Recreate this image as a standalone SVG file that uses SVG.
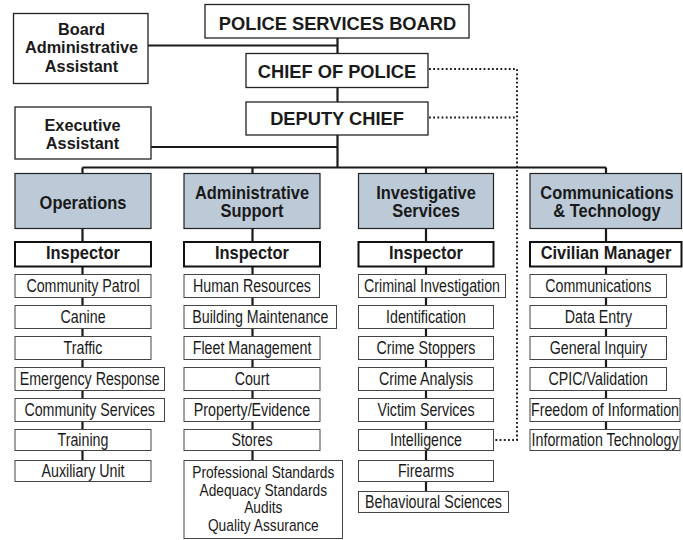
<svg xmlns="http://www.w3.org/2000/svg" width="683" height="540" viewBox="0 0 683 540">
<style>
.top{fill:#fff;stroke:#222;stroke-width:1.3}
.hd{fill:#bccad7;stroke:#222;stroke-width:1.2}
.ins{fill:#fff;stroke:#111;stroke-width:2}
.sub{fill:#fff;stroke:#444;stroke-width:1}
.con{fill:none;stroke:#1a1a1a;stroke-width:2.2}
.dot{fill:none;stroke:#1a1a1a;stroke-width:2;stroke-dasharray:1.8 2.4}
text{font-family:"Liberation Sans",Arial,Helvetica,sans-serif;text-anchor:middle;fill:#1a1a1a}
.tb{font-size:18.3px;font-weight:bold}
.tl{font-size:16.3px;font-weight:bold}
.hb{font-size:17.5px;font-weight:bold;transform:scaleX(0.94);transform-box:fill-box;transform-origin:50% 50%}
.r{font-size:18.5px;transform:scaleX(0.77);transform-box:fill-box;transform-origin:50% 50%}
.ps{font-size:16px;transform:scaleX(0.86);transform-box:fill-box;transform-origin:50% 50%}
</style>
<rect width="683" height="540" fill="#fff"/>
<g id="connectors">
<path class="con" d="M337.5 38V167.5M148 45.5H337.5M151 147H337.5M82.5 167.5H606M82.5 167.5V471M252.5 167.5V461M426 167.5V492M606 167.5V431"/>
<path class="dot" d="M429 69H517V440H494M429 117.5H517"/>
</g>
<g id="board"><rect class="top" x="205" y="4.5" width="264" height="33.5"/><text class="tb" x="337.5" y="29.5">POLICE SERVICES BOARD</text></g>
<g id="chief"><rect class="top" x="246" y="53.5" width="182" height="34"/><text class="tb" x="337" y="77.5">CHIEF OF POLICE</text></g>
<g id="deputy"><rect class="top" x="246" y="102" width="182" height="33"/><text class="tb" x="337" y="125">DEPUTY CHIEF</text></g>
<g id="board-admin"><rect class="top" x="13.5" y="13.5" width="134.5" height="70"/><text class="tl" x="81.5" y="35">Board</text><text class="tl" x="81.5" y="53.3">Administrative</text><text class="tl" x="81.5" y="71.7">Assistant</text></g>
<g id="exec-assistant"><rect class="top" x="15" y="107" width="136" height="52"/><text class="tl" x="82.5" y="130.7">Executive</text><text class="tl" x="82.5" y="149.3">Assistant</text></g>

<g id="operations"><rect class="hd" x="15" y="173.5" width="136" height="55"/><text class="hb" x="83" y="209">Operations</text></g>
<g id="admin-support"><rect class="hd" x="184" y="173.5" width="136" height="55"/><text class="hb" x="252" y="199.5">Administrative</text><text class="hb" x="252" y="217.5">Support</text></g>
<g id="investigative"><rect class="hd" x="358.5" y="173.5" width="135" height="55"/><text class="hb" x="426" y="199.5">Investigative</text><text class="hb" x="426" y="217.5">Services</text></g>
<g id="comm-tech"><rect class="hd" x="530" y="173.5" width="151.5" height="55"/><text class="hb" x="607" y="199.5">Communications</text><text class="hb" x="607" y="217.5">&amp; Technology</text></g>

<g id="ops-inspector"><rect class="ins" x="15" y="242" width="136" height="24.5"/><text class="hb" x="83" y="259.5">Inspector</text></g>
<g id="admin-inspector"><rect class="ins" x="184" y="242" width="136" height="24.5"/><text class="hb" x="252" y="259.5">Inspector</text></g>
<g id="inv-inspector"><rect class="ins" x="358.5" y="242" width="135" height="24.5"/><text class="hb" x="426" y="259.5">Inspector</text></g>
<g id="civilian-manager"><rect class="ins" x="530" y="242" width="151.5" height="24.5"/><text class="hb" x="606" y="259.5">Civilian Manager</text></g>

<g id="community-patrol"><rect class="sub" x="15" y="274.5" width="136" height="23"/><text class="r" x="83" y="292.5">Community Patrol</text></g>
<g id="canine"><rect class="sub" x="15" y="305.5" width="136" height="23"/><text class="r" x="83" y="323.5">Canine</text></g>
<g id="traffic"><rect class="sub" x="15" y="336.5" width="136" height="23"/><text class="r" x="83" y="354.5">Traffic</text></g>
<g id="emergency-response"><rect class="sub" x="15" y="367.5" width="149.5" height="23"/><text class="r" x="89.7" y="385.5">Emergency Response</text></g>
<g id="community-services"><rect class="sub" x="15" y="398.5" width="149.5" height="23"/><text class="r" x="89.7" y="416.5">Community Services</text></g>
<g id="training"><rect class="sub" x="15" y="429.5" width="136" height="21"/><text class="r" x="83" y="446.5">Training</text></g>
<g id="auxiliary-unit"><rect class="sub" x="15" y="460.5" width="136" height="21"/><text class="r" x="83" y="477.5">Auxiliary Unit</text></g>

<g id="human-resources"><rect class="sub" x="184" y="274.5" width="135.5" height="23"/><text class="r" x="252" y="292.5">Human Resources</text></g>
<g id="building-maintenance"><rect class="sub" x="184" y="305.5" width="152.5" height="23"/><text class="r" x="260.3" y="323.5">Building Maintenance</text></g>
<g id="fleet-management"><rect class="sub" x="184" y="336.5" width="136" height="23"/><text class="r" x="252" y="354.5">Fleet Management</text></g>
<g id="court"><rect class="sub" x="184" y="367.5" width="136" height="23"/><text class="r" x="252" y="385.5">Court</text></g>
<g id="property-evidence"><rect class="sub" x="184" y="398.5" width="136" height="23"/><text class="r" x="252" y="416.5">Property/Evidence</text></g>
<g id="stores"><rect class="sub" x="184" y="429.5" width="136" height="21"/><text class="r" x="252" y="446.5">Stores</text></g>
<g id="professional-standards"><rect class="sub" x="184" y="460.5" width="158.5" height="78"/><text class="ps" x="263.3" y="478.5">Professional Standards</text><text class="ps" x="263.3" y="496">Adequacy Standards</text><text class="ps" x="263.3" y="513.5">Audits</text><text class="ps" x="263.3" y="531">Quality Assurance</text></g>

<g id="criminal-investigation"><rect class="sub" x="358.5" y="274.5" width="147" height="23"/><text class="r" x="432" y="292.5">Criminal Investigation</text></g>
<g id="identification"><rect class="sub" x="358.5" y="305.5" width="135" height="23"/><text class="r" x="426" y="323.5">Identification</text></g>
<g id="crime-stoppers"><rect class="sub" x="358.5" y="336.5" width="135" height="23"/><text class="r" x="426" y="354.5">Crime Stoppers</text></g>
<g id="crime-analysis"><rect class="sub" x="358.5" y="367.5" width="135" height="23"/><text class="r" x="426" y="385.5">Crime Analysis</text></g>
<g id="victim-services"><rect class="sub" x="358.5" y="398.5" width="135" height="23"/><text class="r" x="426" y="416.5">Victim Services</text></g>
<g id="intelligence"><rect class="sub" x="358.5" y="429.5" width="135" height="21"/><text class="r" x="426" y="446.5">Intelligence</text></g>
<g id="firearms"><rect class="sub" x="358.5" y="460.5" width="135" height="21"/><text class="r" x="426" y="477.5">Firearms</text></g>
<g id="behavioural-sciences"><rect class="sub" x="358.5" y="491.5" width="150" height="21"/><text class="r" x="433.5" y="508.5">Behavioural Sciences</text></g>

<g id="communications"><rect class="sub" x="530" y="274.5" width="136.5" height="23"/><text class="r" x="598.3" y="292.5">Communications</text></g>
<g id="data-entry"><rect class="sub" x="530" y="305.5" width="136.5" height="23"/><text class="r" x="598.3" y="323.5">Data Entry</text></g>
<g id="general-inquiry"><rect class="sub" x="530" y="336.5" width="136.5" height="23"/><text class="r" x="598.3" y="354.5">General Inquiry</text></g>
<g id="cpic-validation"><rect class="sub" x="530" y="367.5" width="136.5" height="23"/><text class="r" x="598.3" y="385.5">CPIC/Validation</text></g>
<g id="freedom-of-information"><rect class="sub" x="530" y="398.5" width="150" height="23"/><text class="r" x="605" y="416.5">Freedom of Information</text></g>
<g id="information-technology"><rect class="sub" x="530" y="429.5" width="150" height="21"/><text class="r" x="605" y="446.5">Information Technology</text></g>
</svg>
